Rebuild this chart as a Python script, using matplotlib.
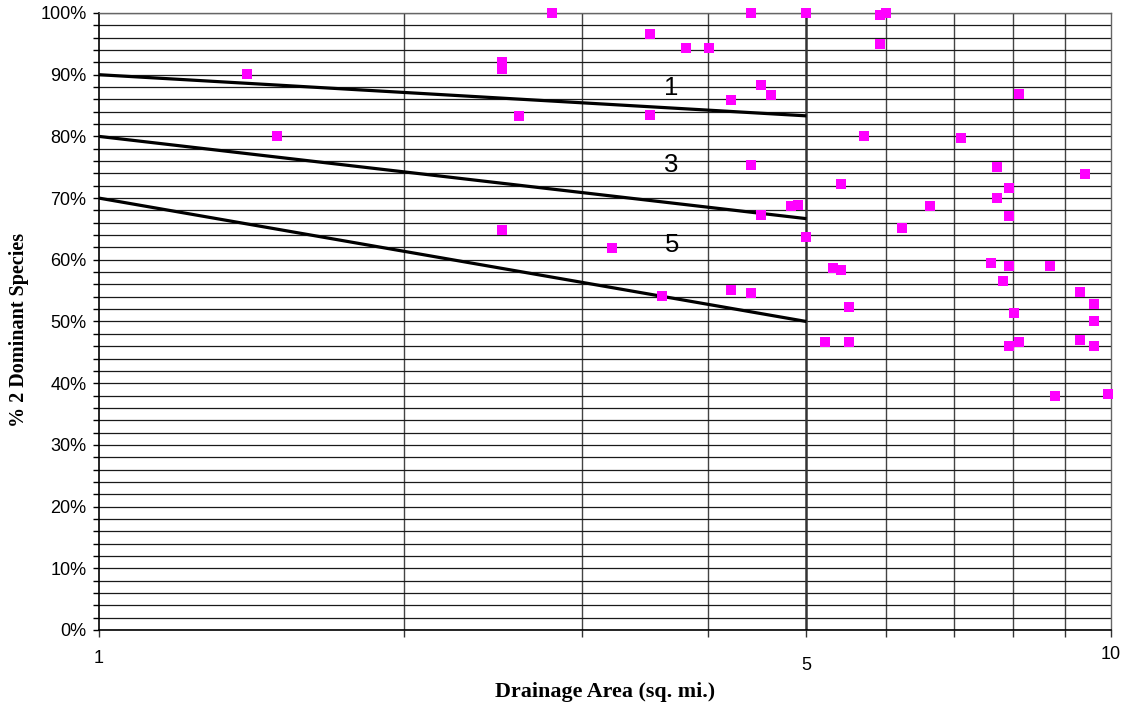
import matplotlib
matplotlib.use("Agg")
import matplotlib.pyplot as plt
import matplotlib.transforms as mtransforms
from matplotlib.ticker import FixedLocator, FuncFormatter, NullFormatter

# Data: drainage area (sq. mi.) and % of 2 dominant species
area = [1.40, 1.50, 2.50, 2.50, 2.50, 2.60, 2.80, 3.21, 3.50, 3.50,
        3.60, 3.80, 4.01, 4.21, 4.21, 4.41, 4.41, 4.41, 4.51, 4.51,
        4.61, 4.83, 4.91, 5.00, 5.00, 5.22, 5.31, 5.41, 5.41, 5.51,
        5.51, 5.70, 5.91, 5.91, 6.00, 6.22, 6.63, 7.11, 7.61, 7.71,
        7.71, 7.82, 7.93, 7.93, 7.93, 7.93, 8.02, 8.11, 8.11, 8.71,
        8.80, 9.31, 9.31, 9.43, 9.62, 9.62, 9.62, 9.93]
pct = [90.1, 80.1, 92.1, 90.9, 64.8, 83.3, 100.0, 61.9, 96.6, 83.5,
       54.1, 94.3, 94.3, 85.9, 55.1, 100.0, 75.4, 54.6, 88.3, 67.3,
       86.7, 68.7, 68.9, 100.0, 63.7, 46.6, 58.6, 58.4, 72.3, 52.4,
       46.7, 80.1, 99.6, 95.0, 100.0, 65.2, 68.7, 79.7, 59.5, 75.0,
       70.0, 56.6, 67.1, 71.7, 59.0, 46.0, 51.4, 86.9, 46.7, 59.0,
       38.0, 54.8, 47.0, 73.9, 52.8, 50.1, 46.0, 38.3]

# Reference lines (criteria 1, 3, 5)
line_x = [1, 5]
line1 = [90.0, 83.33]
line3 = [80.0, 66.67]
line5 = [70.0, 50.0]
line_labels = ["1", "3", "5"]
label_x = 3.68
label_y = [87.8, 75.4, 62.4]

fig = plt.figure(figsize=(11.28, 7.08), dpi=100)
ax = fig.add_axes([99/1128, 78/708, (1111-99)/1128, (630-13)/708])
ax.set_xscale("log")
ax.set_xlim(1, 10)
ax.set_ylim(0, 100)

# grid
ax.yaxis.set_major_locator(FixedLocator(range(0, 101, 10)))
ax.yaxis.set_minor_locator(FixedLocator(range(0, 101, 2)))
ax.xaxis.set_major_locator(FixedLocator([1, 5, 10]))
ax.xaxis.set_minor_locator(FixedLocator([2, 3, 4, 6, 7, 8, 9]))
ax.xaxis.set_minor_formatter(NullFormatter())
ax.xaxis.set_major_formatter(FuncFormatter(lambda v, p: f"{v:g}"))
ax.yaxis.set_major_formatter(FuncFormatter(lambda v, p: f"{v:.0f}%"))

ax.grid(which="both", axis="y", color="#1a1a1a", linewidth=0.9)
ax.grid(which="minor", axis="x", color="#444444", linewidth=1.0)
ax.axvline(5, color="#333333", linewidth=1.8, zorder=1.5)
ax.set_axisbelow(True)

for s in ["top", "right"]:
    ax.spines[s].set_color("#666666")
    ax.spines[s].set_linewidth(1.0)
for s in ["left", "bottom"]:
    ax.spines[s].set_color("black")
    ax.spines[s].set_linewidth(1.2)

ax.tick_params(axis="y", which="both", direction="out", length=4, width=1,
               color="black", labelsize=13, pad=5)
ax.tick_params(axis="x", which="both", direction="out", length=5, width=1,
               color="#333333", labelsize=13, pad=10)

for lab in ax.get_xticklabels() + ax.get_yticklabels():
    lab.set_fontfamily("Liberation Sans")

# lines
for ys in (line1, line3, line5):
    ax.plot(line_x, ys, color="black", linewidth=2.3, zorder=3,
            solid_capstyle="butt")

ax.scatter(area, pct, marker="s", s=62, color="#ff00ff", zorder=4,
           linewidths=0, clip_on=False)

for t, yy in zip(line_labels, label_y):
    ax.text(label_x, yy, t, fontsize=18.5, fontfamily="Liberation Sans",
            ha="center", va="center", zorder=5)

ax.set_xlabel("Drainage Area (sq. mi.)", fontfamily="Liberation Serif",
              fontweight="bold", fontsize=15.8, labelpad=6)
ax.set_ylabel("% 2 Dominant Species", fontfamily="Liberation Serif",
              fontweight="bold", fontsize=14.5, labelpad=8)
ax.yaxis.label.set_y(0.487)

# small per-label vertical offsets of x tick labels like the reference
fig.canvas.draw()
offsets = {"1": 1, "5": -6, "10": 5}
for lab in ax.get_xticklabels():
    dy = offsets.get(lab.get_text(), 0)
    lab.set_transform(lab.get_transform() +
                      mtransforms.ScaledTranslation(0, dy/100, fig.dpi_scale_trans))

fig.savefig("out.png", dpi=100)
